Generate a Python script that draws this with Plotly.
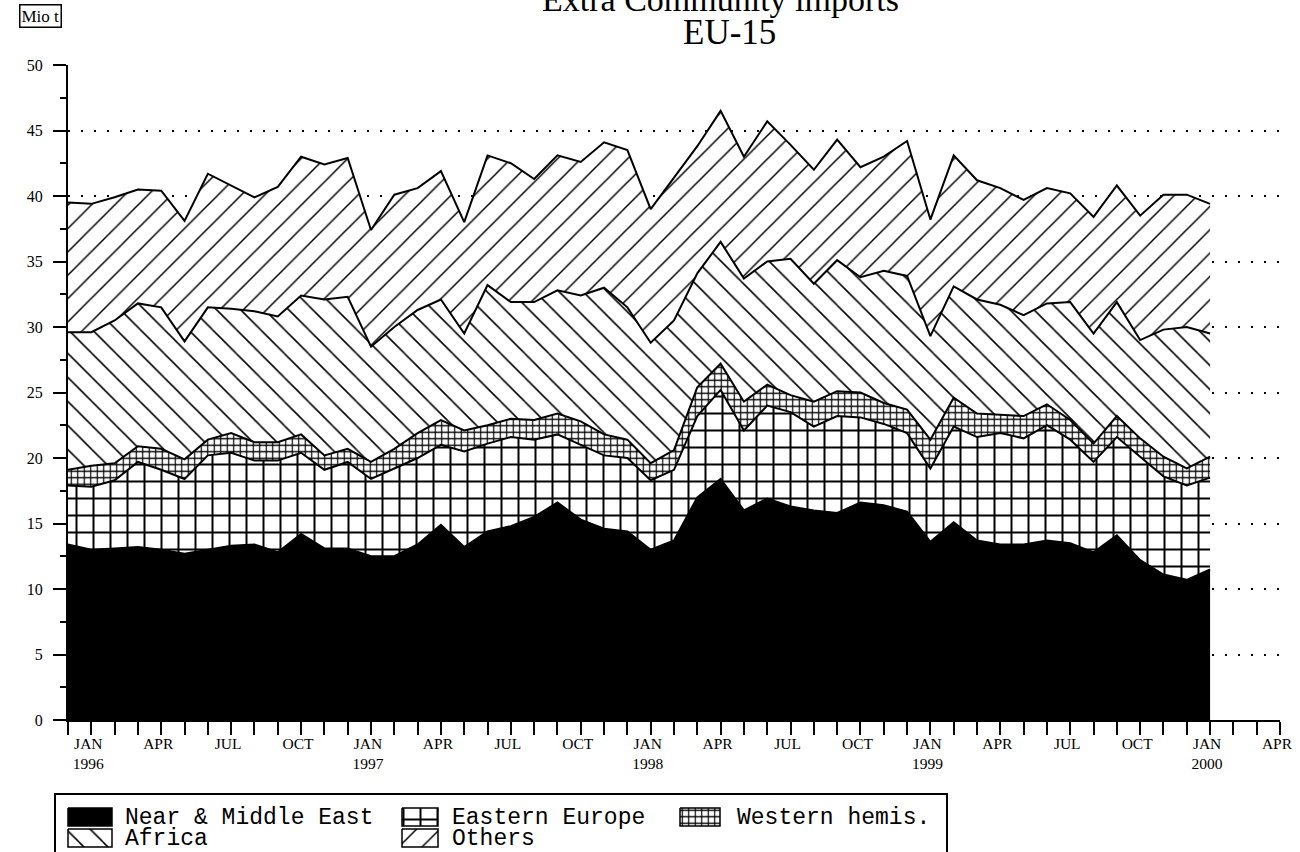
import pandas as pd
import plotly.graph_objects as go

# ---------------- data (million tonnes, monthly) ----------------
months = pd.period_range("1995-12", "2000-01", freq="M")
axis_months = pd.period_range("1995-12", "2000-04", freq="M")

near_middle_east = [13.4, 13.0, 13.1, 13.2, 13.0, 12.7, 13.0, 13.3, 13.4, 12.8,
                    14.2, 13.1, 13.1, 12.5, 12.5, 13.4, 14.9, 13.2, 14.4, 14.8,
                    15.5, 16.6, 15.3, 14.6, 14.4, 13.0, 13.7, 17.0, 18.4, 16.0,
                    16.9, 16.3, 16.0, 15.8, 16.6, 16.4, 15.9, 13.6, 15.1, 13.7,
                    13.4, 13.4, 13.7, 13.5, 12.8, 14.1, 12.2, 11.1, 10.7, 11.5]
eastern_europe = [4.5, 4.8, 5.2, 6.5, 6.1, 5.7, 7.2, 7.1, 6.4, 7.0,
                  6.2, 6.0, 6.6, 5.9, 6.7, 6.6, 6.1, 7.3, 6.7, 6.8,
                  5.9, 5.2, 5.7, 5.6, 5.6, 5.3, 5.4, 6.2, 6.8, 6.1,
                  7.1, 7.2, 6.4, 7.4, 6.5, 6.2, 6.0, 5.6, 7.3, 7.9,
                  8.5, 8.1, 8.8, 7.9, 6.9, 7.5, 7.9, 7.5, 7.2, 7.0]
western_hemis = [1.2, 1.6, 1.3, 1.2, 1.6, 1.5, 1.2, 1.5, 1.4, 1.4,
                 1.4, 1.1, 1.0, 1.3, 1.5, 1.9, 1.9, 1.6, 1.4, 1.4,
                 1.5, 1.6, 1.8, 1.6, 1.4, 1.3, 1.5, 2.2, 2.0, 2.2,
                 1.6, 1.3, 1.9, 1.9, 1.9, 1.6, 1.8, 2.2, 2.2, 1.8,
                 1.4, 1.7, 1.6, 1.5, 1.4, 1.6, 1.4, 1.5, 1.3, 1.6]
africa = [10.5, 10.2, 10.9, 10.9, 10.8, 9.0, 10.1, 9.5, 10.0, 9.6,
          10.6, 11.9, 11.6, 8.8, 9.3, 9.4, 9.2, 7.4, 10.7, 8.9,
          9.0, 9.4, 9.6, 11.2, 10.1, 9.2, 9.9, 8.7, 9.3, 9.4,
          9.4, 10.4, 9.0, 10.0, 8.8, 10.1, 10.2, 7.9, 8.5, 8.7,
          8.4, 7.7, 7.7, 9.0, 8.4, 8.7, 7.5, 9.7, 10.8, 9.4]
others = [9.9, 9.8, 9.4, 8.7, 8.9, 9.2, 10.2, 9.4, 8.7, 9.9,
          10.6, 10.3, 10.6, 8.9, 10.1, 9.3, 9.8, 8.5, 9.9, 10.6,
          9.4, 10.3, 10.2, 11.1, 12.0, 10.2, 10.9, 9.7, 10.0, 9.3,
          10.7, 8.7, 8.7, 9.2, 8.4, 8.7, 10.3, 8.9, 10.0, 9.1,
          8.9, 8.8, 8.8, 8.3, 8.9, 8.9, 9.5, 10.3, 10.1, 9.9]

series_names = ["Near & Middle East", "Eastern Europe", "Western hemis.", "Africa", "Others"]
series_values = [near_middle_east, eastern_europe, western_hemis, africa, others]

y_tick_values = list(range(0, 51, 5))

# ---------------- styles ----------------
W, H = 1300, 852
PL, PR, PT, PB = 68, 1280, 65, 720   # plot area in pixels
SERIF = "Liberation Serif"
MONO = "Liberation Mono"

patterns = [
    None,
    dict(shape="+", size=17, solidity=0.22, fgcolor="black", bgcolor="white", fgopacity=1),
    dict(shape="+", size=6.5, solidity=0.33, fgcolor="black", bgcolor="white", fgopacity=1),
    dict(shape="\\", size=17, solidity=0.09, fgcolor="black", bgcolor="white", fgopacity=1),
    dict(shape="/", size=16.5, solidity=0.09, fgcolor="black", bgcolor="white", fgopacity=1),
]

x_pos = list(range(len(months)))

fig = go.Figure()
for k, (name, vals) in enumerate(zip(series_names, series_values)):
    tr = dict(x=x_pos, y=vals, name=name, mode="lines", stackgroup="one",
              line=dict(color="black", width=2), showlegend=False,
              hoverinfo="skip")
    if patterns[k] is None:
        tr["fillcolor"] = "black"
    else:
        tr["fillcolor"] = "white"
        tr["fillpattern"] = patterns[k]
    fig.add_trace(go.Scatter(**tr))

# ---------------- custom legend (swatches in a pixel-scaled inset) ----------------
LEG_L, LEG_R, LEG_T = 55, 947, 794
leg_rows = [818, 839]
leg_cols = [(68, 44, 125), (402, 36, 452), (680, 40, 737)]   # swatch x0, width, text x
leg_slots = [(0, 0), (0, 1), (0, 2), (1, 0), (1, 1)]
for k, name in enumerate(series_names):
    r, c = leg_slots[k]
    sx, sw, tx = leg_cols[c]
    cy = leg_rows[r]
    tr = dict(x=[sx, sx + sw, sx + sw, sx, sx], y=[cy - 10, cy - 10, cy + 8, cy + 8, cy - 10],
              mode="lines", fill="toself", line=dict(color="black", width=1.5),
              xaxis="x2", yaxis="y2", showlegend=False, hoverinfo="skip")
    if patterns[k] is None:
        tr["fillcolor"] = "black"
    else:
        tr["fillcolor"] = "white"
        tr["fillpattern"] = patterns[k]
    fig.add_trace(go.Scatter(**tr))
    fig.add_annotation(text=name, x=tx - 2, y=cy, xref="x2", yref="y2", xanchor="left",
                       yanchor="middle", showarrow=False,
                       font=dict(family=MONO, size=23, color="black"))

fig.add_shape(type="rect", xref="paper", yref="paper",
              x0=LEG_L / W, x1=LEG_R / W, y0=(H - LEG_T) / H, y1=-0.05,
              line=dict(color="black", width=2), fillcolor="rgba(0,0,0,0)")

# ---------------- x tick labels ----------------
tickvals, ticktext = [], []
for i, p in enumerate(axis_months):
    if p.month in (1, 4, 7, 10):
        tickvals.append(i)
        lab = p.strftime("%b").upper()
        if p.month == 1:
            lab += "<br>" + str(p.year)
        ticktext.append(lab)

fig.update_layout(
    template="none",
    width=W, height=H,
    margin=dict(l=0, r=0, t=0, b=0, autoexpand=False),
    paper_bgcolor="white", plot_bgcolor="white",
    font=dict(family=SERIF, color="black"),
    showlegend=False,
    xaxis=dict(domain=[PL / W, PR / W], range=[0, len(axis_months) - 1],
               automargin=False,
               tickmode="array", tickvals=tickvals, ticktext=ticktext,
               ticks="outside", ticklen=13, tickwidth=2, tickcolor="black",
               showline=True, linewidth=2, linecolor="black",
               showgrid=False, zeroline=False, ticklabelstandoff=-5,
               ticklabelshift=-3,
               tickfont=dict(family=SERIF, size=15.5, color="black"),
               minor=dict(tickmode="array", tickvals=list(range(len(axis_months) - 1)),
                          ticks="outside", ticklen=13, tickwidth=2, tickcolor="black",
                          showgrid=False),
               fixedrange=True),
    yaxis=dict(domain=[(H - PB) / H, (H - PT) / H], range=[0, 50],
               automargin=False,
               tickmode="array", tickvals=y_tick_values,
               ticks="outside", ticklen=13, tickwidth=2, tickcolor="black",
               showline=True, linewidth=2, linecolor="black",
               showgrid=True, gridcolor="black", gridwidth=2, griddash="2px,11px",
               zeroline=False, ticklabelstandoff=7,
               tickfont=dict(family=SERIF, size=16, color="black"),
               minor=dict(dtick=2.5, ticks="outside", ticklen=6, tickwidth=2,
                          tickcolor="black", showgrid=False),
               fixedrange=True),
    xaxis2=dict(domain=[LEG_L / W, LEG_R / W], range=[LEG_L, LEG_R], visible=False,
                fixedrange=True, anchor="y2", automargin=False),
    yaxis2=dict(domain=[0, (H - LEG_T) / H], range=[H, LEG_T], visible=False,
                fixedrange=True, anchor="x2", automargin=False),
)

# titles and unit label
fig.add_annotation(text="Extra Community imports", x=720 / W, y=(H + 1) / H,
                   xref="paper", yref="paper", xanchor="center", yanchor="middle",
                   showarrow=False, font=dict(family=SERIF, size=34, color="black"))
fig.add_annotation(text="EU-15", x=729 / W, y=(H - 33) / H,
                   xref="paper", yref="paper", xanchor="center", yanchor="middle",
                   showarrow=False, font=dict(family=SERIF, size=35, color="black"))
fig.add_annotation(text="Mio t", x=40 / W, y=(H - 16) / H,
                   xref="paper", yref="paper", xanchor="center", yanchor="middle",
                   showarrow=False, bordercolor="black", borderwidth=1.5, borderpad=1,
                   font=dict(family=SERIF, size=17, color="black"))

# the page's default 8px body margin would shift the figure; remove it
fig.write_html("out.html", config=dict(displayModeBar=False),
               post_script="document.body.style.margin='0px';")
